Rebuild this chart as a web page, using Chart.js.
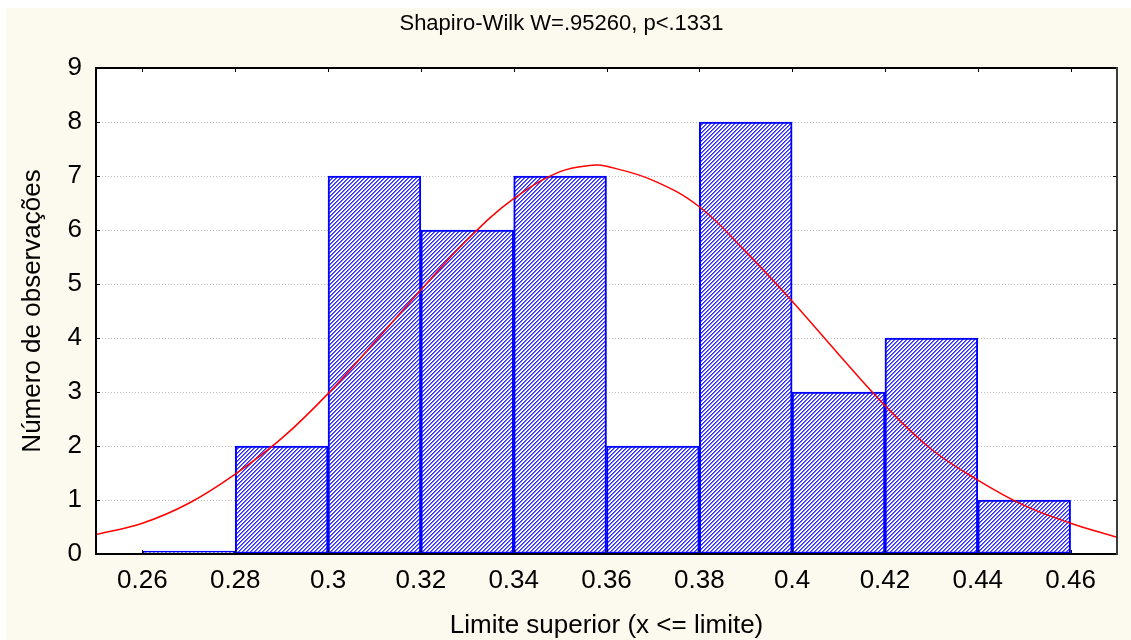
<!DOCTYPE html>
<html>
<head>
<meta charset="utf-8">
<script src="https://cdn.jsdelivr.net/npm/chart.js@4/dist/chart.umd.min.js"></script>
<style>
  html, body { margin: 0; padding: 0; background: #ffffff; width: 1131px; height: 640px; overflow: hidden; }
  #wrap { position: absolute; left: 6px; top: 8px; width: 1125px; height: 632px; background: #fcfaee; }
  #c { display: block; }
</style>
</head>
<body>
<div id="wrap"><canvas id="c" width="1125" height="632"></canvas></div>
<script>
// Histogram bins (centre of each 0.02-wide class) and observed counts
const binCenters = [0.27, 0.29, 0.31, 0.33, 0.35, 0.37, 0.39, 0.41, 0.43, 0.45];
const binCounts  = [0, 2, 7, 6, 7, 2, 8, 3, 4, 1];

// Expected normal curve (expected counts per class)
const curveX = [0.25, 0.26, 0.27, 0.28, 0.29, 0.30, 0.31, 0.32, 0.33, 0.34, 0.35, 0.357, 0.36, 0.37, 0.38, 0.39, 0.40, 0.41, 0.42, 0.43, 0.44, 0.45, 0.46, 0.47];
const curveY = [0.36, 0.57, 0.94, 1.48, 2.14, 2.97, 3.92, 4.89, 5.82, 6.58, 7.08, 7.20, 7.18, 6.92, 6.43, 5.60, 4.68, 3.70, 2.75, 1.94, 1.37, 0.90, 0.57, 0.31];

// Axis ticks
const xTickValues = [0.26, 0.28, 0.30, 0.32, 0.34, 0.36, 0.38, 0.40, 0.42, 0.44, 0.46];
const xTickLabels = ['0.26', '0.28', '0.3', '0.32', '0.34', '0.36', '0.38', '0.4', '0.42', '0.44', '0.46'];
const yTickValues = [0, 1, 2, 3, 4, 5, 6, 7, 8, 9];
const yTickLabels = ['0', '1', '2', '3', '4', '5', '6', '7', '8', '9'];

const titleText = 'Shapiro-Wilk W=.95260, p<.1331';
const xTitle = 'Limite superior (x <= limite)';
const yTitle = 'Número de observações';

const FONT = '"Liberation Sans", Arial, Helvetica, sans-serif';
Chart.defaults.font.family = FONT;
Chart.defaults.color = '#000000';

const canvas = document.getElementById('c');
const ctx = canvas.getContext('2d');

// Diagonal "/" hatch fill for the bars: 2px blue stripe, 2px white gap
function makeHatch() {
  const t = document.createElement('canvas');
  t.width = 4; t.height = 4;
  const g = t.getContext('2d');
  g.fillStyle = '#ffffff';
  g.fillRect(0, 0, 4, 4);
  for (let i = 0; i < 4; i++) {
    g.fillStyle = '#2b2bff';
    g.fillRect(i, 3 - i, 1, 1);
    g.fillStyle = '#6a6aff';
    g.fillRect((i + 1) % 4, 3 - i, 1, 1);
  }
  return ctx.createPattern(t, 'repeat');
}

// White plot area, inward tick marks and the frame around the plot
const framePlugin = {
  id: 'frame',
  beforeDraw(chart) {
    const { ctx: c, chartArea: a } = chart;
    c.save();
    c.fillStyle = '#ffffff';
    c.fillRect(a.left, a.top, a.right - a.left, a.bottom - a.top);
    c.restore();
  },
  afterDatasetsDraw(chart) {
    const { ctx: c, chartArea: a, scales } = chart;
    const xs = scales.x, ys = scales.y;
    const len = 4;
    c.save();
    c.strokeStyle = '#000000';
    c.lineWidth = 1;
    c.beginPath();
    yTickValues.forEach(v => {
      const y = Math.round(ys.getPixelForValue(v)) + 0.5;
      c.moveTo(a.left, y); c.lineTo(a.left + len, y);
      c.moveTo(a.right - len, y); c.lineTo(a.right, y);
    });
    xTickValues.forEach(v => {
      const x = Math.round(xs.getPixelForValue(v)) + 0.5;
      c.moveTo(x, a.top); c.lineTo(x, a.top + len);
      c.moveTo(x, a.bottom - len); c.lineTo(x, a.bottom);
    });
    c.stroke();

    c.lineWidth = 2;
    c.strokeStyle = '#000000';
    c.beginPath();
    c.moveTo(a.right, a.top); c.lineTo(a.left, a.top); c.lineTo(a.left, a.bottom); c.lineTo(a.right, a.bottom);
    c.stroke();
    c.strokeStyle = '#3c3c3c';
    c.beginPath();
    c.moveTo(a.right, a.top - 1); c.lineTo(a.right, a.bottom + 1);
    c.stroke();
    c.restore();
  }
};

new Chart(ctx, {
  type: 'bar',
  data: {
    datasets: [
      {
        type: 'line',
        data: curveX.map((x, i) => ({ x, y: curveY[i] })),
        borderColor: '#ff0000',
        borderWidth: 1.5,
        pointRadius: 0,
        tension: 0.4,
        fill: false,
        order: 0
      },
      {
        type: 'bar',
        data: binCenters.map((x, i) => ({ x, y: binCounts[i] })),
        backgroundColor: makeHatch(),
        borderColor: '#0000ff',
        borderWidth: 2,
        borderSkipped: false,
        barPercentage: 1,
        categoryPercentage: 1,
        minBarLength: 3,
        order: 1
      }
    ]
  },
  options: {
    responsive: false,
    animation: false,
    events: [],
    layout: { padding: { left: 0, right: 14, top: 0, bottom: 0 } },
    plugins: {
      legend: { display: false },
      tooltip: { enabled: false },
      title: {
        display: true,
        text: titleText,
        color: '#000000',
        font: { family: FONT, size: 22, weight: 'normal', lineHeight: 1.2 },
        padding: { top: 3, bottom: 30.6 }
      }
    },
    scales: {
      x: {
        type: 'linear',
        min: 0.25,
        max: 0.47,
        offset: false,
        grid: { display: false, drawTicks: false },
        border: { display: false },
        afterBuildTicks: s => { s.ticks = xTickValues.map(v => ({ value: v })); },
        ticks: {
          autoSkip: false,
          maxRotation: 0,
          padding: 11,
          color: '#000000',
          font: { family: FONT, size: 26 },
          callback: (v, i) => xTickLabels[i]
        },
        title: {
          display: true,
          text: xTitle,
          color: '#000000',
          font: { family: FONT, size: 26, lineHeight: 1.1 },
          padding: { top: 0, bottom: 0 }
        },
        afterFit: s => { s.height = 86; }
      },
      y: {
        min: 0,
        max: 9,
        afterBuildTicks: s => { s.ticks = yTickValues.map(v => ({ value: v })); },
        grid: { color: '#bcbcbc', lineWidth: 1, drawTicks: false },
        border: { display: false, dash: [1, 2] },
        ticks: {
          padding: 14,
          color: '#000000',
          font: { family: FONT, size: 26 },
          callback: (v, i) => yTickLabels[i]
        },
        title: {
          display: true,
          text: yTitle,
          color: '#000000',
          font: { family: FONT, size: 26, lineHeight: 1.2 },
          padding: { top: 11, bottom: 0 }
        },
        afterFit: s => { s.width = 90; }
      }
    }
  },
  plugins: [framePlugin]
});
</script>
</body>
</html>
